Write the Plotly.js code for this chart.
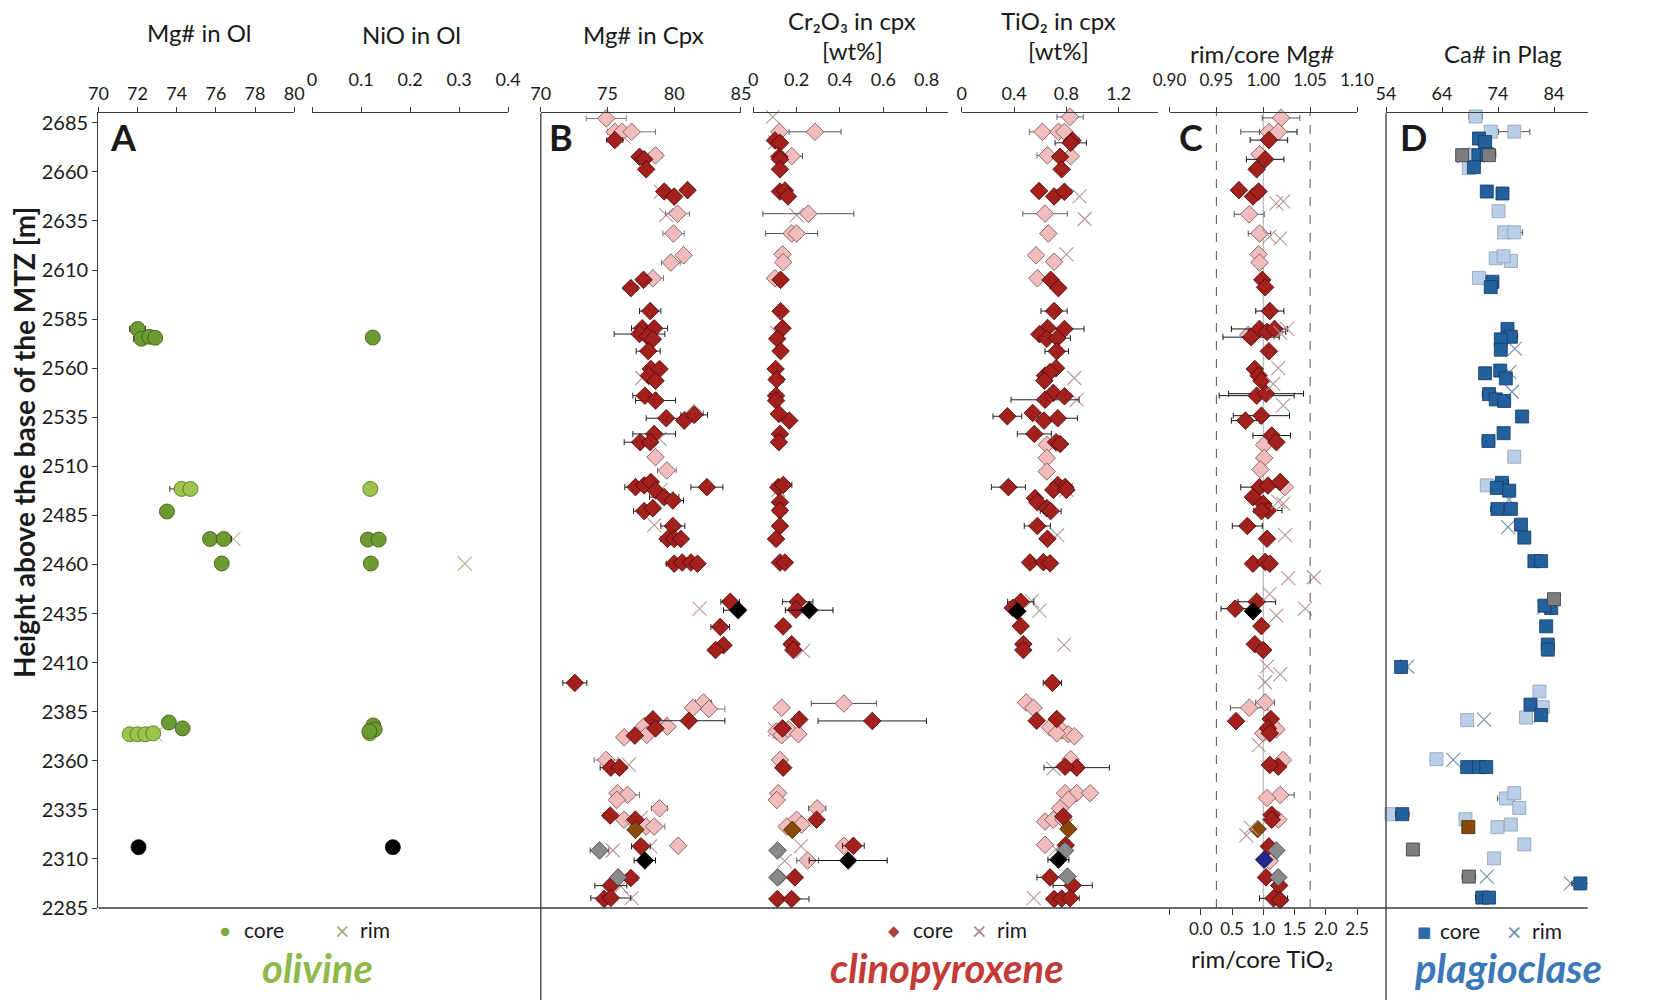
<!DOCTYPE html>
<html><head><meta charset="utf-8">
<script src="https://cdn.plot.ly/plotly-3.0.1.min.js"></script>
<style>html,body{margin:0;padding:0;background:#fff}</style>
</head><body><div id="chart" style="width:1659px;height:1000px"></div>
<script>
// ---------- DATA: rows are [value, height (m), error] ----------
const heightTicks = [2285,2310,2335,2360,2385,2410,2435,2460,2485,2510,2535,2560,2585,2610,2635,2660,2685];

// Olivine
const olMgCore = [[72.0,2580,0.4],[72.2,2575,0.4],[72.6,2576,0],[72.9,2575.5,0],[73.5,2487,0.3],[75.7,2473,0],[76.4,2473,0.4],[76.3,2460.5,0],[73.6,2379.5,0],[74.3,2376.5,0.3]];
const olMgLight = [[74.25,2498.5,0.6],[74.7,2498.5,0.3],[71.6,2373.5,0],[72.0,2373.5,0],[72.4,2373.5,0],[72.8,2374,0]];
const olMgBlack = [[72.05,2316,0]];
const olMgRim = [[76.9,2473,0],[72.9,2373.5,0]];
const olNiCore = [[0.124,2575.6,0],[0.114,2472.7,0],[0.136,2472.7,0],[0.12,2460.5,0],[0.125,2378,0],[0.128,2376,0],[0.117,2375,0]];
const olNiLight = [[0.119,2498.5,0],[0.118,2374,0]];
const olNiBlack = [[0.165,2316,0]];
const olNiRim = [[0.312,2460.5,0]];

// Clinopyroxene Mg#
const cpxMgDark = [[75.55,2676.2,0.6],[77.4,2667.7,0.3],[77.75,2666.4,0],[77.9,2661.3,0],[79.25,2650,0.4],[80.0,2647.4,0],[81.0,2650.7,0],[77.7,2605,0],[76.75,2600.8,0.5],[78.2,2589.1,0.8],[77.6,2580.3,0.8],[78.5,2580.3,1.0],[77.4,2577.4,1.9],[78.0,2576.2,0],[78.4,2574.8,0],[78.05,2568.7,0.9],[78.25,2559.6,0],[78.9,2559.6,0],[78.1,2556.2,0],[78.6,2553.6,0],[77.8,2546,0.9],[78.6,2543.5,1.5],[79.4,2534.5,1.5],[80.75,2533.3,0],[81.5,2536.2,1.0],[78.5,2526.5,1.6],[77.45,2522.3,1.2],[78.2,2522.3,0],[77.1,2499.4,0.8],[77.75,2500.3,0],[78.25,2502,0],[78.6,2497.7,0],[82.45,2499.4,1.2],[79.25,2494.3,1.1],[79.9,2492.6,0.8],[77.75,2487.2,0.8],[78.4,2488.7,0],[79.9,2479.6,0.9],[79.5,2473,0.5],[80.0,2473,0],[80.5,2473,0],[80.0,2460.4,0.6],[80.6,2461,0],[81.25,2461,0],[81.75,2460.4,0],[84.2,2441,0.7],[83.45,2428.2,0.7],[83.7,2418.9,0],[83.1,2416.4,0],[72.55,2399.7,0.9],[81.1,2380.4,2.7],[78.4,2381.1,0],[78.6,2376.5,0],[77.05,2372.8,0],[75.25,2356.5,0.8],[75.9,2356.5,0],[75.2,2332.1,0.5],[77.1,2330,0],[77.5,2316.4,0.7],[76.75,2300.3,0.5],[75.25,2296.4,1.2],[74.75,2289.6,0.4],[75.25,2290.1,1.5]];
const cpxMgPale = [[74.9,2687.2,1.5],[75.55,2680.4,0],[76.1,2680.4,0],[76.8,2680.4,1.8],[78.6,2668.4,0.5],[80.25,2638.7,0.9],[79.95,2628.6,0.8],[80.7,2617.5,0],[79.75,2613.8,0.7],[78.4,2605.8,0.8],[81.5,2537,0.7],[78.6,2514.7,0],[79.45,2507.9,0.7],[82.2,2389.7,0.6],[82.6,2386.4,1.2],[81.4,2387,0],[79.5,2377.4,0],[77.75,2377.7,0],[76.25,2372,0],[77.95,2373.2,0],[74.9,2360.4,0.9],[75.75,2343.5,0],[76.5,2342.6,0.9],[75.7,2340.1,0],[78.9,2335.8,0.6],[76.25,2330,0],[77.0,2329.4,0],[77.9,2326.5,0],[78.5,2326.5,0.8],[80.3,2316.7,0]];
const cpxMgGray = [[74.4,2314.3,0.7],[75.8,2300.6,0]];
const cpxMgBlack = [[77.8,2309.2,0.8],[84.8,2436.7,1.1]];
const cpxMgBrown = [[77.1,2324.8,0]];
const cpxMgRim = [[76.2,2678,0],[79.0,2650,0],[79.4,2638,0],[78.0,2578,0],[77.6,2555,0],[78.9,2524,0],[79.0,2498,0],[78.5,2480,0],[81.9,2437.5,0],[79.0,2379,0],[76.6,2358,0],[77.5,2331,0],[75.4,2314.3,0],[78.2,2316.4,0],[76.8,2290,0],[76.0,2296,0]];

// Clinopyroxene Cr2O3 [wt%]
const crDark = [[0.1,2676,0],[0.123,2674.8,0],[0.12,2667.7,0],[0.123,2666.4,0],[0.123,2661.3,0],[0.123,2650,0],[0.146,2650.5,0],[0.16,2647.5,0.02],[0.126,2605,0],[0.126,2589,0],[0.135,2580.4,0.02],[0.11,2575,0],[0.126,2568.7,0],[0.103,2559.6,0.02],[0.108,2554.2,0.03],[0.105,2546,0],[0.105,2543.5,0],[0.118,2536.7,0],[0.166,2533.3,0.02],[0.123,2526.5,0],[0.118,2522.3,0],[0.115,2499.4,0],[0.138,2500.5,0.04],[0.123,2491.7,0],[0.123,2487.5,0.03],[0.123,2479.6,0],[0.105,2473,0],[0.123,2461,0],[0.146,2461,0],[0.205,2441,0.07],[0.197,2437,0],[0.138,2428.5,0],[0.177,2419.4,0],[0.185,2416.4,0],[0.212,2381,0],[0.549,2380.3,0.25],[0.135,2376.5,0],[0.138,2356.5,0],[0.292,2330,0],[0.462,2316.7,0.05],[0.192,2300.6,0],[0.111,2289.6,0],[0.177,2289.6,0.08]];
const crPale = [[0.12,2680.4,0],[0.285,2680.4,0.12],[0.177,2668,0.05],[0.254,2638.7,0.21],[0.177,2628.6,0.12],[0.2,2628.6,0],[0.135,2618,0],[0.138,2614,0],[0.1,2605.8,0],[0.418,2389.2,0.15],[0.131,2387,0],[0.108,2375,0],[0.131,2373,0],[0.162,2376,0],[0.208,2373.5,0],[0.123,2360.4,0],[0.115,2343.5,0],[0.108,2340,0],[0.295,2335.8,0.04],[0.2,2330,0],[0.223,2327.5,0],[0.154,2326.5,0],[0.418,2316.7,0],[0.251,2309.2,0.05]];
const crGray = [[0.112,2314.3,0],[0.112,2300.6,0]];
const crBlack = [[0.258,2436.7,0.11],[0.438,2309.2,0.18]];
const crBrown = [[0.18,2324.8,0]];
const crRim = [[0.09,2688,0],[0.1,2675,0],[0.2,2638,0],[0.11,2578,0],[0.115,2498,0],[0.23,2416,0],[0.12,2375,0],[0.22,2316.5,0],[0.155,2300.6,0],[0.145,2309,0],[0.1,2376,0]];

// Clinopyroxene TiO2 [wt%]
const tiDark = [[0.846,2676,0.05],[0.833,2674.8,0.12],[0.752,2667.7,0],[0.764,2661.3,0],[0.591,2650.3,0],[0.706,2647.5,0],[0.785,2649.9,0.05],[0.68,2605,0],[0.739,2600.8,0],[0.706,2589.1,0.1],[0.657,2580.5,0],[0.785,2580,0.15],[0.594,2577.3,0],[0.65,2575,0],[0.731,2575.3,0.1],[0.726,2568.6,0.09],[0.637,2556.2,0],[0.721,2560,0],[0.675,2558,0],[0.632,2553.6,0],[0.7,2547.4,0],[0.785,2545.7,0],[0.637,2543.9,0.26],[0.349,2535.5,0.11],[0.543,2537.2,0],[0.629,2533.3,0],[0.734,2534.5,0.15],[0.555,2526.5,0.13],[0.721,2522.3,0],[0.752,2521.4,0],[0.357,2499.4,0.13],[0.734,2500.5,0],[0.79,2499.5,0],[0.7,2498,0],[0.8,2498,0],[0.56,2493.8,0],[0.578,2491.7,0],[0.65,2488.7,0],[0.68,2487.2,0.08],[0.578,2479.6,0.1],[0.655,2473.1,0],[0.522,2461,0],[0.624,2461.2,0],[0.675,2460.6,0],[0.451,2441,0.1],[0.39,2437.9,0],[0.451,2428.6,0],[0.471,2419.4,0],[0.471,2416.4,0],[0.693,2399.7,0.07],[0.573,2380.4,0],[0.726,2381.3,0],[0.879,2356.5,0.25],[0.79,2357,0],[0.777,2331.6,0],[0.795,2317,0],[0.675,2300.6,0.1],[0.848,2296.5,0.15],[0.706,2289.6,0],[0.764,2289.8,0],[0.828,2290,0.07]];
const tiPale = [[0.828,2688,0.1],[0.617,2680.4,0.1],[0.739,2680.4,0],[0.785,2680.4,0],[0.655,2668.4,0.08],[0.833,2668,0],[0.637,2638.7,0.17],[0.662,2628.6,0],[0.568,2617.5,0],[0.706,2614.2,0],[0.578,2605.8,0],[0.65,2521,0],[0.65,2514.3,0],[0.65,2507.4,0],[0.492,2389.7,0],[0.548,2387,0],[0.675,2377,0],[0.764,2375.5,0],[0.815,2373.5,0],[0.861,2372.5,0],[0.726,2374,0],[0.833,2360.8,0],[0.79,2343.5,0],[0.879,2343.5,0],[0.981,2343.5,0],[0.815,2340.1,0],[0.752,2335.8,0],[0.637,2329,0],[0.7,2330,0],[0.777,2330,0],[0.637,2317.2,0]];
const tiGray = [[0.79,2314.3,0],[0.808,2301,0]];
const tiBlack = [[0.425,2436.2,0],[0.739,2309.6,0.08]];
const tiBrown = [[0.815,2325.2,0]];
const tiRim = [[0.9,2647.5,0],[0.94,2636,0],[0.8,2618,0],[0.86,2555,0],[0.88,2544,0],[0.8,2498,0],[0.535,2441.5,0],[0.594,2436.5,0],[0.782,2419,0],[0.73,2475,0],[0.7,2356,0],[0.72,2315,0],[0.55,2290,0]];

// Clinopyroxene rim/core Mg# (diamonds) and rim/core TiO2 (crosses)
const rcMgDark = [[1.006,2676.2,0.02],[1.002,2666.4,0.02],[0.993,2661.3,0],[0.974,2650.7,0],[0.989,2647.5,0],[0.995,2650,0],[0.999,2605,0],[1.002,2601.2,0],[1.007,2589.1,0.015],[0.996,2580,0.03],[0.987,2575.8,0.03],[1.004,2578.5,0.02],[1.012,2580,0],[1.006,2568.6,0],[0.991,2559.6,0],[0.995,2556.2,0],[0.998,2553.6,0],[0.993,2546,0.04],[1.003,2547,0.04],[0.981,2533.3,0.015],[0.998,2535.8,0.03],[1.009,2525.7,0.02],[1.014,2522.3,0],[0.996,2499.4,0.02],[1.005,2500.2,0],[1.018,2502,0],[0.989,2494.3,0],[1.0,2490.9,0],[1.005,2487.5,0.015],[0.998,2487.2,0],[0.983,2479.6,0.016],[1.004,2473.1,0],[0.989,2460.4,0],[1.002,2461.3,0],[1.007,2460.4,0],[0.993,2441,0.02],[0.97,2437.5,0.015],[0.998,2428.6,0],[0.991,2419.4,0],[1.0,2416.4,0],[0.971,2380.2,0],[1.008,2381.3,0],[1.005,2376.5,0],[1.007,2374,0],[1.016,2357,0],[1.007,2357.9,0],[1.009,2332.5,0],[1.009,2330,0],[1.006,2316.4,0],[1.003,2300.6,0],[1.017,2296.5,0],[1.011,2289.9,0.015],[1.018,2289,0]];
const rcMgPale = [[1.019,2687.5,0.02],[1.006,2680.4,0.03],[1.016,2680.4,0.02],[0.996,2669,0],[0.985,2638.4,0.016],[0.996,2628.6,0.012],[0.995,2618,0],[0.996,2613.8,0],[0.984,2577,0],[1.001,2521,0],[1.001,2514.3,0],[0.997,2508.4,0],[1.023,2499.4,0],[0.985,2387,0.02],[1.002,2389.7,0.01],[1.014,2376,0],[1.0,2374,0],[1.021,2360.4,0],[1.018,2342.6,0.015],[1.004,2341,0],[1.016,2330,0],[1.007,2309,0]];
const rcMgGray = [[1.014,2314.3,0],[1.016,2300.6,0]];
const rcMgBlack = [[0.989,2436.2,0]];
const rcMgBrown = [[0.994,2325.2,0]];
const rcMgBlue = [[1.001,2309.6,0]];
const rcTiRim = [[1.21,2644,0],[1.32,2645,0],[1.1,2627,0],[1.27,2626,0],[1.27,2578,0],[1.38,2580,0],[1.24,2560,0],[1.16,2552,0],[1.32,2541,0],[1.32,2491,0],[1.24,2492,0],[1.35,2475,0],[1.4,2453,0],[1.81,2453.5,0],[1.1,2445,0],[1.67,2437.5,0],[1.21,2434,0],[1.06,2408,0],[1.27,2404,0],[1.03,2400,0],[0.93,2368,0],[0.8,2326,0],[0.73,2322,0]];

// Plagioclase Ca#
const plDark = [[70.6,2677,0.8],[71.7,2675.2,0],[70.5,2668.5,0],[72.0,2669,1.6],[69.7,2662.4,0.8],[72.0,2650,0],[74.8,2649,0],[73.0,2604,0.6],[72.7,2601.3,0],[75.7,2580,1.0],[76.3,2576,1.2],[74.5,2574.7,0],[74.5,2569.4,0.6],[71.7,2557.4,0],[74.4,2558.8,0],[75.4,2554.8,0],[72.4,2546.8,1.2],[73.6,2544.1,0],[75.1,2543.3,1.0],[78.3,2535.4,0.8],[72.3,2522.9,1.1],[75.0,2526.9,0],[74.7,2501.6,1.2],[73.8,2499,0],[76.0,2497.6,0],[73.9,2488.3,1.2],[76.3,2488.3,0.8],[78.1,2480.3,0.7],[78.7,2473.7,0.9],[80.5,2461.7,0],[81.7,2461.7,0],[83.5,2437.8,0],[82.3,2439,0],[82.6,2428.5,0],[82.9,2419.2,0],[82.9,2416.6,0],[56.7,2407.8,0.8],[79.8,2388.6,0],[81.7,2383.3,0],[68.5,2356.8,0],[70.6,2356.8,0],[71.9,2356.8,0.8],[56.9,2332.8,1.2],[88.7,2297.5,1.5],[71.2,2290.3,1.2],[72.4,2290.3,0]];
const plPale = [[70.0,2688.2,1.2],[72.7,2680.5,0],[76.9,2680.5,2.8],[68.8,2668.5,0],[68.8,2662,0],[74.1,2640,1.0],[75.1,2629.2,0],[76.9,2629.2,1.5],[73.6,2616,0],[76.3,2614.6,0],[75.0,2617,0],[70.6,2606,0],[76.9,2514.9,0.8],[72.0,2500.3,0],[81.4,2395.3,1.0],[82.0,2387.3,0],[79.0,2382,0],[68.5,2380.7,0],[63.0,2360.8,0.8],[75.4,2340.8,1.5],[76.9,2343.5,0.8],[77.8,2336,0.6],[55.0,2332.8,0],[68.2,2330.2,0],[73.9,2326.2,0],[76.3,2327.5,0],[78.7,2317.4,0],[73.3,2310.3,0.8]];
const plGray = [[67.6,2668.5,0],[72.4,2668.5,0],[84.0,2442.3,0.7],[58.8,2314.8,0],[68.8,2301,1.2]];
const plBrown = [[68.7,2326.2,0]];
const plRim = [[68.0,2668,0],[71.5,2677,0],[70.0,2669,0],[76.0,2558,0],[76.5,2548,0],[77.0,2570,0],[76.0,2493,0],[75.8,2479,0],[82.2,2438,0],[57.8,2408,0],[81.5,2383,0],[71.5,2381,0],[66.0,2360.5,0],[87.0,2297.5,0],[72.0,2301,0]];

// ---------- STYLE ----------
const F = 'Lato, "Noto Sans", "DejaVu Sans", sans-serif';
const AX = '#3a3a3a';

function pts(rows, xa, marker, errColor) {
  const t = {
    type: 'scatter', mode: 'markers', xaxis: xa, yaxis: 'y',
    x: rows.map(r => r[0]), y: rows.map(r => r[1]),
    marker: marker, hoverinfo: 'skip', cliponaxis: false
  };
  if (errColor) {
    t.error_x = {type: 'data', array: rows.map(r => r[2]), visible: true,
                 color: errColor, thickness: 1, width: 3};
  }
  return t;
}
const dia = (c, lc, s) => ({symbol: 'diamond', size: s || 13.5, color: c, line: {color: lc, width: 0.8}});
const sq = (c, lc) => ({symbol: 'square', size: 13, color: c, line: {color: lc, width: 0.8}});
const circ = (c, lc) => ({symbol: 'circle', size: 15, color: c, line: {color: lc, width: 0.8}});
const cross = (c) => ({symbol: 'x-thin', size: 14, color: c, line: {color: c, width: 1.1}});

const RED = '#a3201d', REDL = '#3a0808', PINK = '#f2bcbc', PINKL = '#6b4a4a';
const GRAY = '#8a8a8a', BROWN = '#8a4a0c', RIMC = '#b89595';

const traces = [
  // olivine
  pts(olMgRim, 'x', cross('#b4b88a')),
  pts(olMgLight, 'x', circ('#9dc44c', '#4d6a20'), '#333'),
  pts(olMgCore, 'x', circ('#6e9a32', '#3a5416'), '#333'),
  pts(olMgBlack, 'x', circ('#000', '#000')),
  pts(olNiRim, 'x2', cross('#b4b88a')),
  pts(olNiLight, 'x2', circ('#9dc44c', '#4d6a20')),
  pts(olNiCore, 'x2', circ('#6e9a32', '#3a5416')),
  pts(olNiBlack, 'x2', circ('#000', '#000')),
  // cpx Mg#
  pts(cpxMgRim, 'x3', cross(RIMC)),
  pts(cpxMgPale, 'x3', dia(PINK, PINKL), '#777'),
  pts(cpxMgDark, 'x3', dia(RED, REDL), '#222'),
  pts(cpxMgGray, 'x3', dia(GRAY, '#333'), '#444'),
  pts(cpxMgBrown, 'x3', dia(BROWN, '#3a2000')),
  pts(cpxMgBlack, 'x3', dia('#000', '#000'), '#111'),
  // Cr2O3
  pts(crRim, 'x4', cross(RIMC)),
  pts(crPale, 'x4', dia(PINK, PINKL), '#555'),
  pts(crDark, 'x4', dia(RED, REDL), '#222'),
  pts(crGray, 'x4', dia(GRAY, '#333')),
  pts(crBrown, 'x4', dia(BROWN, '#3a2000')),
  pts(crBlack, 'x4', dia('#000', '#000'), '#111'),
  // TiO2
  pts(tiRim, 'x5', cross(RIMC)),
  pts(tiPale, 'x5', dia(PINK, PINKL), '#666'),
  pts(tiDark, 'x5', dia(RED, REDL), '#222'),
  pts(tiGray, 'x5', dia(GRAY, '#333')),
  pts(tiBrown, 'x5', dia(BROWN, '#3a2000')),
  pts(tiBlack, 'x5', dia('#000', '#000'), '#111'),
  // rim/core
  pts(rcTiRim, 'x8', cross(RIMC)),
  pts(rcMgPale, 'x6', dia(PINK, PINKL), '#555'),
  pts(rcMgDark, 'x6', dia(RED, REDL), '#111'),
  pts(rcMgGray, 'x6', dia(GRAY, '#333')),
  pts(rcMgBrown, 'x6', dia(BROWN, '#3a2000')),
  pts(rcMgBlack, 'x6', dia('#000', '#000')),
  pts(rcMgBlue, 'x6', dia('#1f2a8c', '#0a0f40')),
  // plagioclase
  pts(plRim, 'x7', cross('#6f8cae')),
  pts(plPale, 'x7', sq('#b9cfe8', '#8aa0ba'), '#555'),
  pts(plDark, 'x7', sq('#22609e', '#163a60'), '#222'),
  pts(plGray, 'x7', sq('#7d7d7d', '#3a3a3a'), '#333'),
  pts(plBrown, 'x7', sq(BROWN, '#3a2000'))
];

// ---------- LAYOUT ----------
const W = 1659, H = 1000;
const px = v => v / W, py = v => 1 - v / H;
const yDom = [py(908), py(113)];
const yRange = [2285, 2690];

function xa(dom, range, extra) {
  return Object.assign({
    domain: dom, range: range, side: 'top', anchor: 'y',
    showline: true, linecolor: AX, linewidth: 1.3,
    ticks: 'outside', ticklen: 5, tickcolor: AX, tickwidth: 1,
    tickfont: {family: F, size: 18, color: '#1a1a1a'},
    showgrid: false, zeroline: false, fixedrange: true
  }, extra || {});
}
function ya(anchor, extra) {
  return Object.assign({
    domain: yDom, range: yRange, anchor: anchor, overlaying: 'y',
    showline: true, linecolor: AX, linewidth: 1.3,
    ticks: 'inside', ticklen: 5, tickcolor: AX, tickvals: heightTicks,
    showticklabels: false, showgrid: false, zeroline: false, fixedrange: true
  }, extra || {});
}

const dA = [px(98.4), px(294.2)], dN = [px(312), px(508)], dB = [px(540.8), px(740.9)];
const dCr = [px(753.3), px(948.3)], dTi = [px(961.7), px(1158)];
const dC = [px(1169.5), px(1357)], dD = [px(1386), px(1587.6)];

const layout = {
  width: W, height: H, margin: {l: 0, r: 0, t: 0, b: 0},
  paper_bgcolor: '#fff', plot_bgcolor: 'rgba(0,0,0,0)', showlegend: false,
  font: {family: F, color: '#1a1a1a'},
  xaxis: xa(dA, [70, 80], {tick0: 70, dtick: 2}),
  xaxis2: xa(dN, [0, 0.4], {tick0: 0, dtick: 0.1, ticklabelstandoff: 14}),
  xaxis3: xa(dB, [70, 85], {tick0: 70, dtick: 5}),
  xaxis4: xa(dCr, [0, 0.9], {tickvals: [0, 0.2, 0.4, 0.6, 0.8], ticklabelstandoff: 14}),
  xaxis5: xa(dTi, [0, 1.5], {tickvals: [0, 0.4, 0.8, 1.2]}),
  xaxis6: xa(dC, [0.9, 1.1], {tickvals: [0.9, 0.95, 1.0, 1.05, 1.1], tickformat: '.2f', ticklabelstandoff: 14,
    tickfont: {family: F, size: 17, color: '#1a1a1a'}}),
  xaxis7: xa(dD, [54, 90], {tickvals: [54, 64, 74, 84]}),
  xaxis8: xa(dC, [-0.5, 2.5], {overlaying: 'x6', side: 'bottom', showline: false,
    tickvals: [-0.5, 0, 0.5, 1.0, 1.5, 2.0, 2.5], ticktext: ['', '0.0', '0.5', '1.0', '1.5', '2.0', '2.5'],
    ticklen: 6, tickfont: {family: F, size: 17, color: '#1a1a1a'}}),
  yaxis: {domain: yDom, range: yRange, anchor: 'x', side: 'left',
    showline: true, linecolor: AX, linewidth: 1.3, ticks: 'outside', ticklen: 5, tickcolor: AX,
    tickvals: heightTicks, tickfont: {family: F, size: 20, color: '#1a1a1a'},
    showgrid: false, zeroline: false, fixedrange: true},
  yaxis2: ya('x2'),
  yaxis3: ya('x3'),
  yaxis4: ya('x4'),
  yaxis5: ya('x5'),
  yaxis6: ya('x6'),
  yaxis7: ya('x6', {side: 'right'}),
  yaxis8: ya('x7', {ticks: ''}),
  yaxis9: ya('x7', {side: 'right', showticklabels: true,
    tickfont: {family: F, size: 20, color: '#1a1a1a'}}),
  shapes: [
    {type: 'line', xref: 'paper', yref: 'paper', x0: px(540.8), x1: px(540.8), y0: 0, y1: yDom[1], line: {color: AX, width: 1.3}},
    {type: 'line', xref: 'paper', yref: 'paper', x0: px(1386), x1: px(1386), y0: 0, y1: yDom[1], line: {color: AX, width: 1.3}},
    {type: 'line', xref: 'paper', yref: 'paper', x0: px(98.4), x1: px(1587.6), y0: yDom[0], y1: yDom[0], line: {color: AX, width: 1.6}},
    {type: 'line', xref: 'x6', yref: 'paper', x0: 0.95, x1: 0.95, y0: yDom[0], y1: yDom[1], line: {color: '#555', width: 1, dash: 'dash'}},
    {type: 'line', xref: 'x6', yref: 'paper', x0: 1.05, x1: 1.05, y0: yDom[0], y1: yDom[1], line: {color: '#555', width: 1, dash: 'dash'}},
    {type: 'line', xref: 'x6', yref: 'paper', x0: 1.0, x1: 1.0, y0: yDom[0], y1: yDom[1], line: {color: '#aaa', width: 1}, layer: 'below'}
  ],
  annotations: []
};

function txt(x, y, text, size, extra) {
  layout.annotations.push(Object.assign({
    xref: 'paper', yref: 'paper', x: px(x), y: py(y), text: text, showarrow: false,
    xanchor: 'center', yanchor: 'middle', font: {family: F, size: size, color: '#1a1a1a'}
  }, extra || {}));
}
// panel titles
txt(199, 32, 'Mg# in Ol', 24);
txt(411, 34, 'NiO in Ol', 24);
txt(643, 34, 'Mg# in Cpx', 24);
txt(852, 20, 'Cr₂O₃ in cpx', 24);
txt(852, 50, '[wt%]', 24);
txt(1058, 20, 'TiO₂ in cpx', 24);
txt(1058, 50, '[wt%]', 24);
txt(1262, 53, 'rim/core Mg#', 24);
txt(1503, 53, 'Ca# in Plag', 24);
// panel letters
txt(123, 137, '<b>A</b>', 36);
txt(561, 137, '<b>B</b>', 36);
txt(1191, 137, '<b>C</b>', 36);
txt(1413, 137, '<b>D</b>', 36);
// y title
txt(24, 443, '<b>Height above the base of the MTZ [m]</b>', 28, {textangle: -90});
// bottom TiO2 axis title
txt(1262, 958, 'rim/core TiO₂', 24);
// legends
txt(225, 930, '●', 17, {font: {family: F, size: 17, color: '#7aa63a'}});
txt(264, 929, 'core', 21);
txt(342, 930, '×', 20, {font: {family: F, size: 25, color: '#a8ae80'}});
txt(375, 929, 'rim', 21);
txt(317, 968, '<b><i>olivine</i></b>', 40, {font: {family: F, size: 40, color: '#8db84a'}});
txt(894, 930, '◆', 15, {font: {family: F, size: 15, color: '#b0403c'}});
txt(933, 929, 'core', 21);
txt(979, 930, '×', 20, {font: {family: F, size: 25, color: '#b08a88'}});
txt(1012, 929, 'rim', 21);
txt(947, 968, '<b><i>clinopyroxene</i></b>', 40, {font: {family: F, size: 40, color: '#c23b37'}});
txt(1424, 931, '■', 15, {font: {family: F, size: 15, color: '#2f6aa8'}});
txt(1460, 930, 'core', 21);
txt(1514, 931, '×', 20, {font: {family: F, size: 25, color: '#6f8cae'}});
txt(1547, 930, 'rim', 21);
txt(1508, 968, '<b><i>plagioclase</i></b>', 40, {font: {family: F, size: 40, color: '#3a78b8'}});

Plotly.newPlot('chart', traces, layout, {staticPlot: true, displayModeBar: false});
</script></body></html>
